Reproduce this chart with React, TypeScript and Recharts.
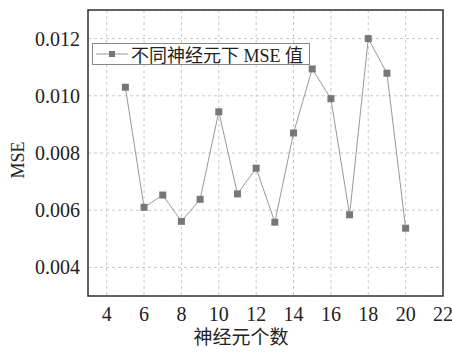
import React from "react";
import {
  LineChart, Line, XAxis, YAxis, CartesianGrid, ReferenceArea, Label
} from "recharts";

const neurons = [5, 6, 7, 8, 9, 10, 11, 12, 13, 14, 15, 16, 17, 18, 19, 20];
const mse = [
  0.0103, 0.0061, 0.00653, 0.00561, 0.00638, 0.00944, 0.00657, 0.00747,
  0.00558, 0.0087, 0.01094, 0.0099, 0.00584, 0.012, 0.01079, 0.00537,
];
const xTicks = [4, 6, 8, 10, 12, 14, 16, 18, 20, 22];
const yTicks = [0.004, 0.006, 0.008, 0.01, 0.012];
const seriesName = "不同神经元下 MSE 值";

const data = neurons.map((n, i) => ({ n, mse: mse[i] }));

const serif = "'Liberation Serif', 'Times New Roman', 'DejaVu Serif', 'Noto Sans CJK SC', serif";

function LegendBox() {
  return (
    <div
      style={{
        position: "absolute",
        left: 92,
        top: 43,
        border: "1px solid #888",
        background: "#fff",
        height: 22,
        width: 218,
        display: "flex",
        alignItems: "center",
        fontFamily: serif,
        fontSize: 18,
        color: "#222",
        boxSizing: "border-box",
      }}
    >
      <svg width={38} height={20}>
        <line x1={3} y1={10} x2={35} y2={10} stroke="#999" strokeWidth={1} />
        <rect x={16} y={7} width={6} height={6} fill="#777" />
      </svg>
      <span style={{ whiteSpace: "nowrap" }}>{seriesName}</span>
    </div>
  );
}

function Square(props: any) {
  const { cx, cy } = props;
  if (cx == null || cy == null) return null;
  return <rect x={cx - 3.5} y={cy - 3.5} width={7} height={7} fill="#777" />;
}

function XTick(props: any) {
  const { x, y, payload } = props;
  return (
    <text x={x} y={y + 10} textAnchor="middle" dominantBaseline="central"
      fill="#222" fontSize={20} style={{ fontFamily: serif }}>
      {payload.value}
    </text>
  );
}

function YTick(props: any) {
  const { x, y, payload } = props;
  return (
    <text x={x} y={y} textAnchor="end" dominantBaseline="central"
      fill="#222" fontSize={20} style={{ fontFamily: serif }}>
      {Number(payload.value).toFixed(3)}
    </text>
  );
}

export default function App() {
  return (
    <div style={{ position: "absolute", left: 0, top: 0, background: "#fff", width: 452, height: 354 }}>
      <LineChart
        width={452}
        height={354}
        data={data}
        margin={{ top: 10, right: 9, left: 0, bottom: 0 }}
      >
        <CartesianGrid stroke="#c8c8c8" strokeDasharray="3 3" />
        <XAxis
          dataKey="n"
          type="number"
          domain={[3, 22]}
          ticks={xTicks}
          height={58}
          tickLine={false}
          axisLine={false}
          tick={<XTick />}
        >
          <Label
            content={() => (
              <text x={241} y={337} textAnchor="middle" dominantBaseline="central"
                fill="#222" fontSize={19} style={{ fontFamily: serif }}>
                神经元个数
              </text>
            )}
          />
        </XAxis>
        <YAxis
          type="number"
          domain={[0.003, 0.013]}
          ticks={yTicks}
          width={88}
          tickLine={false}
          axisLine={false}
          tick={<YTick />}
        >
          <Label
            content={() => (
              <text x={18} y={160} textAnchor="middle" dominantBaseline="central"
                transform="rotate(-90 18 160)" fill="#222" fontSize={18}
                style={{ fontFamily: serif }}>
                MSE
              </text>
            )}
          />
        </YAxis>
        <ReferenceArea
          x1={3}
          x2={22}
          y1={0.003}
          y2={0.013}
          fill="none"
          stroke="#333"
          strokeWidth={1.5}
          fillOpacity={0}
        />
        <Line
          dataKey="mse"
          name={seriesName}
          stroke="#999"
          strokeWidth={1}
          dot={<Square />}
          activeDot={false}
          isAnimationActive={false}
        />
      </LineChart>
      <LegendBox />
    </div>
  );
}
